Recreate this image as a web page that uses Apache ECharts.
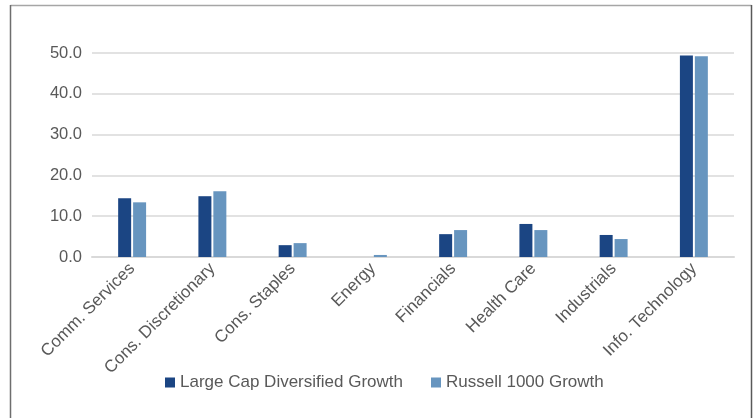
<!DOCTYPE html>
<html>
<head>
<meta charset="utf-8">
<script src="https://cdn.jsdelivr.net/npm/echarts@6/dist/echarts.min.js"></script>
<style>html,body{margin:0;padding:0;background:#fff;}#c{width:755px;height:418px;}</style>
</head>
<body>
<div id="c"></div>
<script>
const categories = ['Comm. Services','Cons. Discretionary','Cons. Staples','Energy','Financials','Health Care','Industrials','Info. Technology'];
const largeCapGrowth = [14.4, 14.9, 2.9, 0.0, 5.6, 8.1, 5.4, 49.4];
const russell1000Growth = [13.4, 16.1, 3.4, 0.5, 6.6, 6.6, 4.4, 49.2];
const seriesNames = ['Large Cap Diversified Growth', 'Russell 1000 Growth'];

const chart = echarts.init(document.getElementById('c'));
const font = 'Liberation Sans, Arial, Helvetica, sans-serif';
chart.setOption({
  animation: false,
  graphic: [
    { type: 'line', shape: { x1: 10.5, y1: 5.5, x2: 751.5, y2: 5.5 }, style: { stroke: '#a6a6a6', lineWidth: 1.5 } },
    { type: 'line', shape: { x1: 10.5, y1: 5, x2: 10.5, y2: 418 }, style: { stroke: '#6e6e6e', lineWidth: 1.5 } },
    { type: 'line', shape: { x1: 751.5, y1: 5, x2: 751.5, y2: 418 }, style: { stroke: '#595959', lineWidth: 1.5 } }
  ],
  grid: { left: 92, right: 21, top: 53, bottom: 161, containLabel: false },
  legend: {
    data: seriesNames,
    left: 160, top: 369,
    itemWidth: 10, itemHeight: 10, itemGap: 28,
    icon: 'rect',
    textStyle: { color: '#595959', fontSize: 17, fontFamily: font }
  },
  xAxis: {
    type: 'category',
    data: categories,
    axisLine: { lineStyle: { color: '#d9d9d9', width: 2 } },
    axisTick: { show: false },
    axisLabel: { rotate: 45, color: '#595959', fontSize: 17, fontFamily: font, interval: 0, margin: 9 }
  },
  yAxis: {
    type: 'value',
    min: 0, max: 50, interval: 10,
    axisLine: { show: false },
    axisTick: { show: false },
    splitLine: { lineStyle: { color: '#d9d9d9', width: 1.5 } },
    axisLabel: { color: '#595959', fontSize: 16.5, fontFamily: font, margin: 10, formatter: v => v.toFixed(1) }
  },
  series: [
    { name: seriesNames[0], type: 'bar', data: largeCapGrowth, barWidth: 13, barGap: '15%', itemStyle: { color: '#1b4583' } },
    { name: seriesNames[1], type: 'bar', data: russell1000Growth, barWidth: 13, itemStyle: { color: '#6795bf' } }
  ]
});
</script>
</body>
</html>
